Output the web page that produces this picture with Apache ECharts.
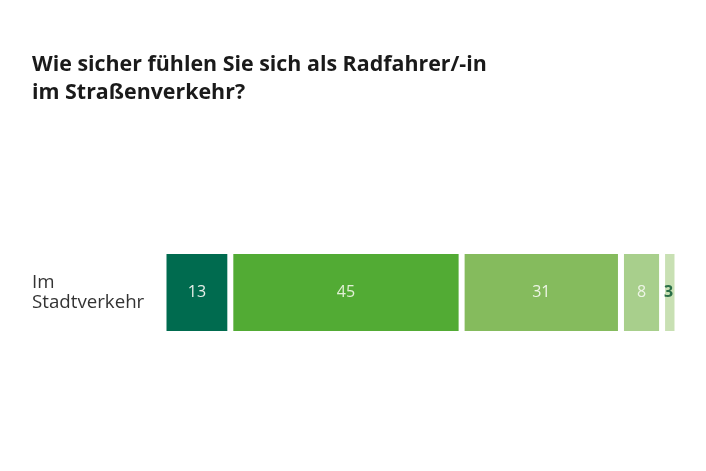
<!DOCTYPE html>
<html>
<head>
<meta charset="utf-8">
<script src="https://cdn.jsdelivr.net/npm/echarts@6/dist/echarts.min.js"></script>
<style>html,body{margin:0;padding:0;background:#fff}#c{width:706px;height:471px}</style>
</head>
<body>
<div id="c"></div>
<script>
var titleText = 'Wie sicher fühlen Sie sich als Radfahrer/-in\nim Straßenverkehr?';
var categories = ['Im\nStadtverkehr'];
var seriesNames = ['sehr sicher', 'eher sicher', 'teils/teils', 'eher unsicher', 'sehr unsicher'];
var seriesValues = [[13], [45], [31], [8], [3]];
var seriesColors = ['#006b4f', '#52ab34', '#85bb5d', '#a8cf8c', '#c8e0b3'];
var labelColors = ['#e6efe9', '#e2f0d6', '#eef5e6', '#eef5e6', '#2a6e47'];

var chart = echarts.init(document.getElementById('c'), null, {renderer: 'canvas'});
var series = seriesNames.map(function (n, i) {
  var last = i === seriesNames.length - 1;
  return {
    name: n,
    type: 'bar',
    stack: 'total',
    barWidth: 83,
    data: seriesValues[i],
    itemStyle: {color: seriesColors[i], borderColor: '#ffffff', borderWidth: 3},
    label: {
      show: true,
      position: last ? 'insideLeft' : 'inside',
      distance: last ? 2 : 5,
      color: labelColors[i],
      fontSize: 16,
      fontWeight: last ? 'bold' : 'normal',
      fontFamily: 'Open Sans'
    },
    emphasis: {disabled: true}
  };
});

chart.setOption({
  animation: false,
  backgroundColor: '#ffffff',
  title: {
    text: titleText,
    left: 27,
    top: 46,
    textStyle: {fontFamily: 'Open Sans', fontWeight: 'bold', fontSize: 21.4, color: '#1a1a1a', lineHeight: 28}
  },
  grid: {left: 163.5, right: 28.5, top: 251, bottom: 137, containLabel: false},
  xAxis: {type: 'value', min: 0, max: 100, show: false},
  yAxis: {
    type: 'category',
    data: categories,
    axisLine: {show: false},
    axisTick: {show: false},
    axisLabel: {
      align: 'left',
      margin: 131.5,
      color: '#333333',
      fontSize: 18.7,
      lineHeight: 20,
      fontFamily: 'Open Sans'
    }
  },
  series: series
});
</script>
</body>
</html>
